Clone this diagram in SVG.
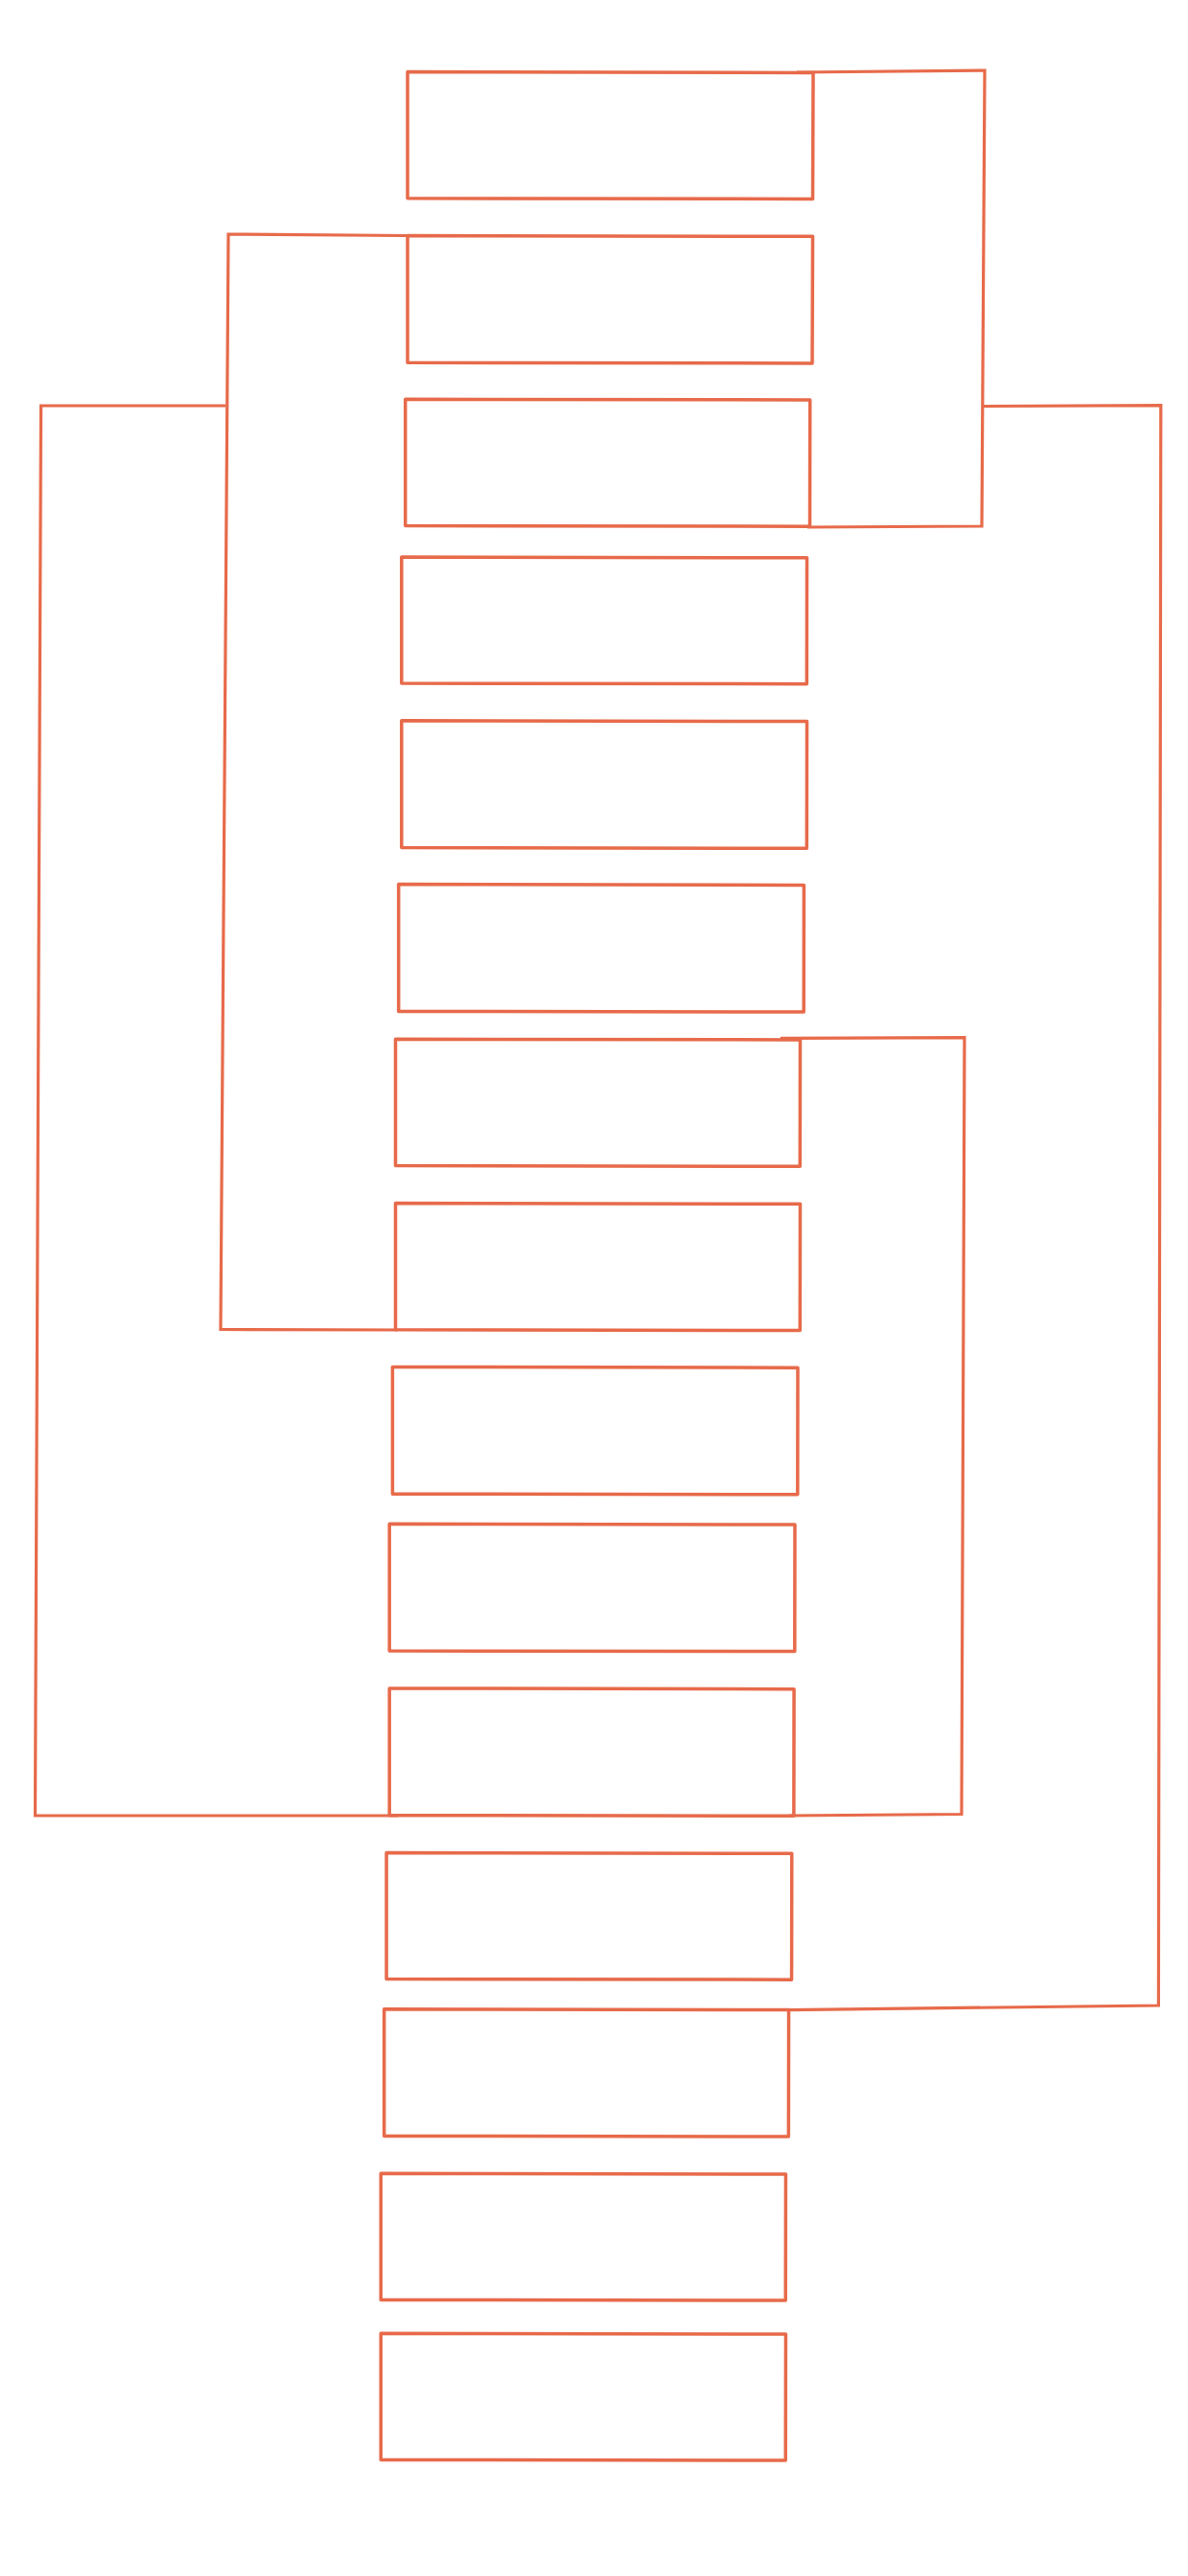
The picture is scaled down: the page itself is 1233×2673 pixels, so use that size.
<svg xmlns="http://www.w3.org/2000/svg" width="1233" height="2673" viewBox="0 0 1233 2673">
<style>
.n{fill:none;stroke:#e76a4a;stroke-width:3.5;stroke-linejoin:round;stroke-linecap:round}
.c{fill:none;stroke:#e76a4a;stroke-width:3.2;stroke-linejoin:miter;stroke-linecap:butt}
</style>
<rect x="0" y="0" width="1233" height="2673" fill="#ffffff"/>
<g id="connectors">
<path class="c" d="M 827 75 L 1022 73 L 1019 546 L 838 547"/>
<path class="c" d="M 423 244.5 L 237 243 L 229 1379.5 L 412 1380"/>
<path class="c" d="M 234 421 L 42.5 421 L 36.5 1884 L 413 1884"/>
<path class="c" d="M 1019 421.5 L 1204.8 420.7 L 1202.4 2081 L 818 2085.6"/>
<path class="c" d="M 810 1077.4 L 1001 1076.6 L 998 1882.5 L 819 1884"/>
</g>
<g id="node1"><path class="n" d="M 423 74.5 L 844 75.5 L 843.5 206.5 L 423 205.8 Z"/></g>
<g id="node2"><path class="n" d="M 423 244.5 L 843.5 245.3 L 843 377 L 423 376.3 Z"/></g>
<g id="node3"><path class="n" d="M 420.7 414.3 L 840.7 415 L 840.5 546.2 L 420.7 545.6 Z"/></g>
<g id="node4"><path class="n" d="M 416.8 578 L 837.5 578.8 L 837.3 709.7 L 416.8 709 Z"/></g>
<g id="node5"><path class="n" d="M 416.8 747.8 L 837.5 748.6 L 837.3 880.3 L 416.8 879.6 Z"/></g>
<g id="node6"><path class="n" d="M 413.7 917.6 L 834.4 918.4 L 834.2 1050 L 413.7 1049.4 Z"/></g>
<g id="node7"><path class="n" d="M 410.5 1078.2 L 830.5 1079 L 830.3 1210.3 L 410.5 1209.6 Z"/></g>
<g id="node8"><path class="n" d="M 410.5 1248.5 L 830.5 1249.3 L 830.3 1380.5 L 410.5 1379.8 Z"/></g>
<g id="node9"><path class="n" d="M 407.4 1418.4 L 828 1419.2 L 827.8 1550.8 L 407.4 1550.2 Z"/></g>
<g id="node10"><path class="n" d="M 404.2 1581.2 L 825 1582 L 824.8 1713.6 L 404.2 1713 Z"/></g>
<g id="node11"><path class="n" d="M 404.2 1751.9 L 824.1 1752.7 L 823.9 1884.3 L 404.2 1883.7 Z"/></g>
<g id="node12"><path class="n" d="M 401.1 1922.5 L 821.8 1923.3 L 821.6 2054.2 L 401.1 2053.5 Z"/></g>
<g id="node13"><path class="n" d="M 398.7 2084.7 L 818.6 2085.5 L 818.4 2217 L 398.7 2216.4 Z"/></g>
<g id="node14"><path class="n" d="M 395.3 2255.2 L 815.5 2256 L 815.3 2387 L 395.3 2386.4 Z"/></g>
<g id="node15"><path class="n" d="M 395.3 2421.3 L 815.5 2422.1 L 815.3 2553 L 395.3 2552.4 Z"/></g>
</svg>
